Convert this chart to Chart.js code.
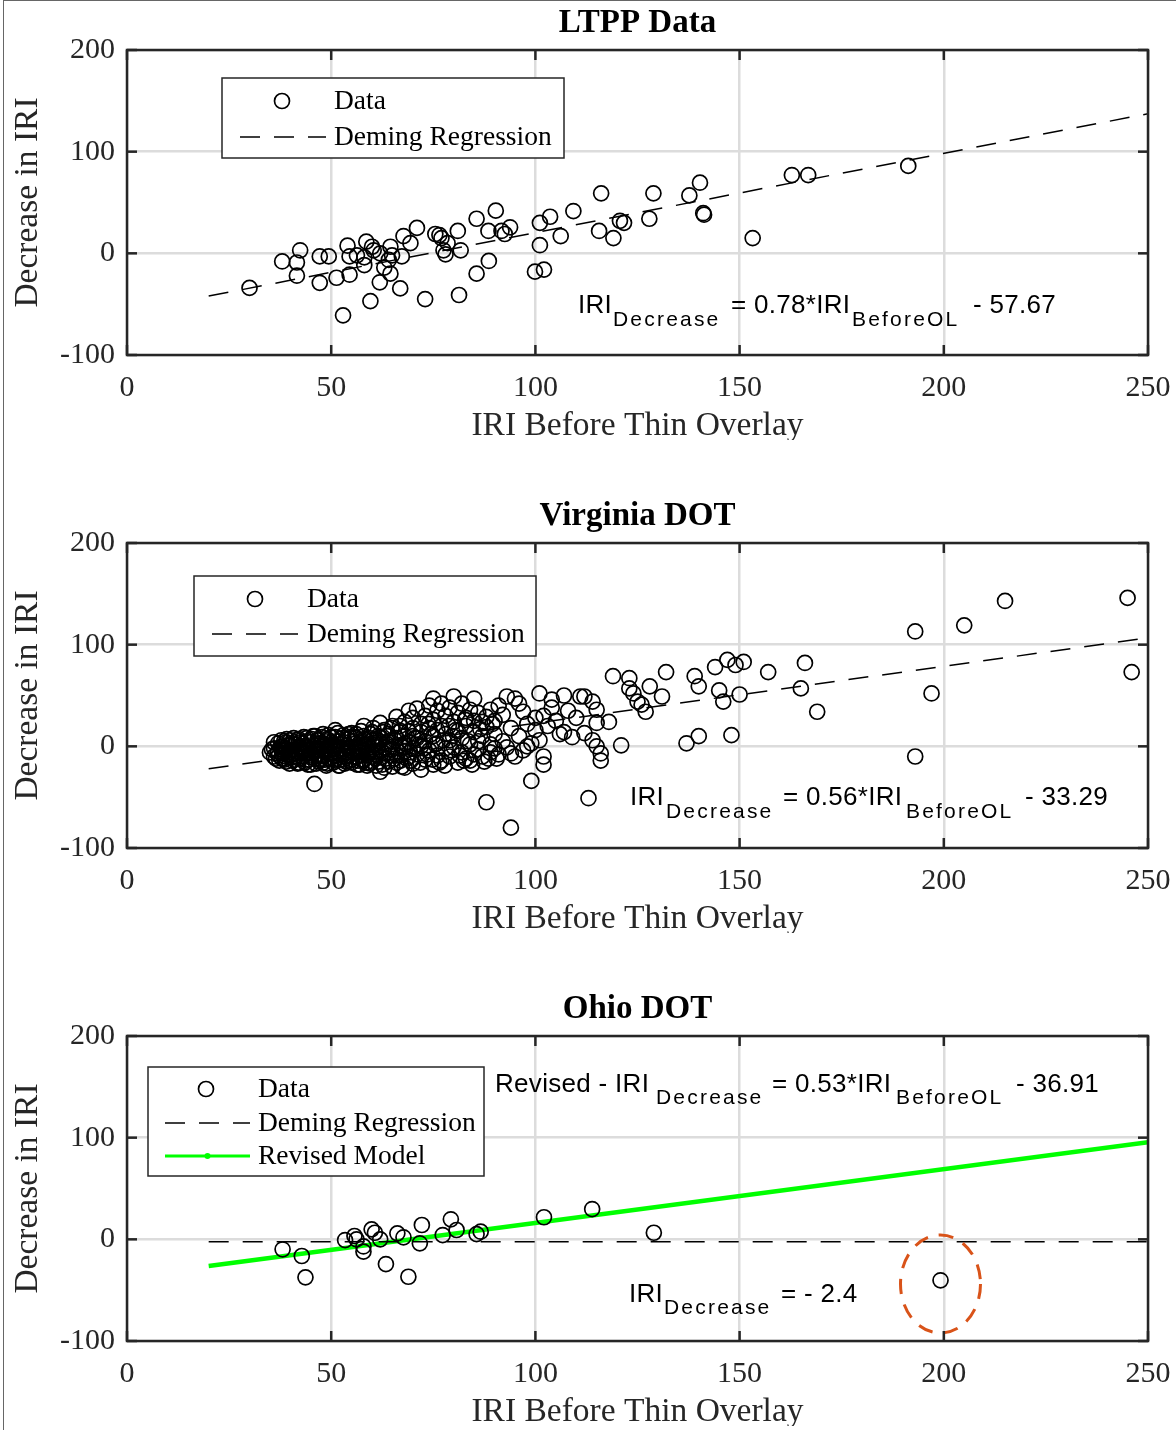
<!DOCTYPE html>
<html>
<head>
<meta charset="utf-8">
<script src="https://cdn.jsdelivr.net/npm/chart.js@4.4.1/dist/chart.umd.min.js"></script>
<style>
  body { margin: 0; background: #fff; width: 1176px; height: 1430px; position: relative; overflow: hidden; }
  .frame { position: absolute; left: 3px; top: 0; width: 1200px; height: 1440px; border-left: 1.5px solid #666; border-top: 1.5px solid #666; }
  canvas { position: absolute; left: 0; }
</style>
</head>
<body>
<div class="frame"></div>
<canvas id="c1" width="1176" height="440" style="top:0px"></canvas>
<canvas id="c2" width="1176" height="440" style="top:493px"></canvas>
<canvas id="c3" width="1176" height="440" style="top:986px"></canvas>
<script>
// axes
const xTickValues = [0, 50, 100, 150, 200, 250];
const yTickValues = [-100, 0, 100, 200];

// LTPP data [IRI before, decrease]
const ltppPoints = [
  [30, -34], [38, -8], [41.6, -9], [41.6, -22], [42.4, 3], [47.2, -3], [49.4, -3], [47.2, -29],
  [51.3, -24], [52.9, -61], [54, 7.5], [54.5, -3], [54.5, -21], [56.3, -2], [58.6, 11.5], [58.1, -11.5],
  [58.1, -4], [59.6, -47], [60, 6.5], [60.4, 3], [61.9, -28.5], [62, 0], [63, -14], [64.1, -6.5],
  [64.5, 6.5], [64.9, -2], [64.5, -20], [67.3, -3], [66.9, -34.5], [67.7, 17], [69.4, 10], [71, 25],
  [73, -45], [75.5, 19], [76.5, 18], [77, 15], [77.5, 3], [78, -1], [78.5, 10], [81, 22], [81.7, 3],
  [81.3, -41], [85.6, 34], [85.6, -20], [88.5, 22], [88.6, -7.5], [90.3, 42], [91.7, 22], [93.8, 25.6],
  [92.5, 19], [99.9, -18], [102.1, -16], [101.1, 30], [101.1, 8], [103.6, 36], [106.2, 17], [109.3, 41.6],
  [116.1, 59], [115.6, 22], [119.1, 15], [120.7, 32], [121.7, 30], [127.9, 34], [128.9, 59], [137.7, 57],
  [140.3, 69.5], [141.1, 39.5], [141.3, 38], [153.2, 15], [162.8, 77], [166.8, 77], [191.3, 86]
];
const ltppDemingX = [20, 250];
const ltppDemingY = [-42.07, 137.33];

// Virginia DOT data
const virginiaPoints = [
  [35, -6], [36, -2], [36, -10], [37, -5], [37, 3], [38, -12], [38, 0], [38, -7], [39, 4], [39, -15],
  [39, -3], [40, -9], [40, 1], [40, 6], [41, -13], [41, -5], [41, 2], [42, -16], [42, -1], [42, 7],
  [43, -10], [43, -4], [43, 3], [44, -14], [44, 0], [44, 8], [45, -7], [45, -18], [45, 4],
  [36.5, -12], [37.5, -1], [38.5, 5], [39.5, -8], [40.5, -14], [41.5, -3], [42.5, 4], [43.5, -7],
  [44.5, -13], [45.5, -1], [46.5, -8], [47.5, 3], [48.5, -13], [49.5, 1], [50.5, -16], [51.5, -5],
  [52.5, 2], [53.5, -10], [54.5, -14], [55.5, 5], [56.5, -2], [57.5, -9], [58.5, 0], [59.5, -17],
  [60.5, -8], [61.5, 10], [63.5, 3], [65.5, -12], [66.5, 14], [67.5, -1], [69.5, -14], [71.5, 2],
  [73.5, -8], [74.5, 12], [76.5, -16], [77.5, 6], [79.5, -4], [80.5, 16], [82.5, -14], [83.5, 5],
  [84.5, -18], [86.5, 17], [87.5, -15], [89.5, 22], [90.5, -12],
  [35.5, -3], [36, 4], [36.8, -7], [37.3, -14], [37.8, 6], [38.3, -4], [38.8, -10], [39.3, 1],
  [39.8, -17], [40.3, -4], [40.8, 8], [41.3, -10], [41.8, -17], [42.3, 0], [42.8, -7], [43.3, 9],
  [43.8, -3], [44.3, -18], [44.8, -9], [45.3, 7], [45.8, -4], [46.3, -17], [46.8, 3], [47.3, -10],
  [47.8, 9], [48.3, -5], [48.8, -19], [49.3, 11], [49.8, -8], [50.3, 0], [50.8, -13], [51.3, 5],
  [51.8, -19], [52.3, -2], [52.8, 8], [53.3, -17], [53.8, -6], [54.3, 12], [54.8, -1], [55.3, -10],
  [55.8, 9], [56.3, -18], [56.8, -5], [57.3, 15], [57.8, -14], [58.3, 2], [58.8, -19], [59.3, 8],
  [59.8, -5], [60.3, 18], [60.8, -12], [61.3, -1], [61.8, 5], [62.5, -18], [63, -21], [63.8, 10],
  [64.5, -9], [65, 0], [66, -16], [66.8, 20], [67.3, -20], [68.5, -12], [69, 15], [70.5, 8],
  [71.8, -16], [72.8, -2], [73.8, 22], [74.8, -13], [75.5, 2], [76, 16], [77.8, -19], [78.8, 20],
  [79.8, 10], [81.5, -9], [82.8, 26], [84, -14], [86, 5], [87, 24], [88.5, -12], [90, -2],
  [37.2, -9], [37.9, -3], [38.6, -13], [39.1, 7], [39.6, -6], [40.1, -11], [40.6, 3], [41.1, -7],
  [41.6, 6], [42.1, -12], [42.6, -4], [43.1, 0], [43.6, -16], [44.1, 5], [44.6, -4], [45.1, -11],
  [45.6, 10], [46.1, -5], [46.6, 6], [47.1, -13], [47.6, 0], [48.1, -16], [48.6, 5], [49.1, -7],
  [49.6, -12], [50.1, 9], [50.6, -3], [51.1, -9], [51.6, 13], [52.1, -13], [52.6, -5], [53.1, 4],
  [53.6, -15], [54.1, -2], [54.6, 9], [55.1, -13], [55.6, -7], [56.1, 12], [56.6, -14], [57.1, 4],
  [57.6, -3], [58.1, 7], [58.6, -16], [59.1, -6], [59.6, 12], [60.1, -10], [60.6, 1], [61.1, 7],
  [61.6, -15], [62.2, -4], [62.8, 14], [63.4, -12], [64.2, -3], [64.8, 18], [65.6, 6], [66.4, -5],
  [67, -9], [68, 3], [69.2, -6], [70, 10],
  [46, -12], [46, 1], [46, 10], [47, -4], [47, -15], [47, 6], [48, -9], [48, 2], [48, 12], [49, -17],
  [49, -2], [49, 7], [50, -11], [50, 4], [50, -6], [51, -14], [51, 0], [51, 9], [51, 16], [52, -8],
  [52, 5], [52, -19], [53, -3], [53, 11], [53, -13], [54, 1], [54, -9], [54, 7], [55, -16], [55, -4],
  [55, 13], [56, 3], [56, -11], [56, 8], [57, -6], [57, -18], [57, 0], [58, 10], [58, -13], [58, 4],
  [58, 20], [59, -2], [59, -9], [60, 6], [60, -15], [60, 14],
  [61, -5], [61, 2], [61, -19], [62, 9], [62, -11], [62, 23], [62, -25], [63, -1], [63, 16], [63, -7],
  [64, 5], [64, -15], [64, 12], [65, -3], [65, 20], [65, -20], [66, 8], [66, -9], [66, 29], [67, 1],
  [67, 15], [67, -14], [68, -5], [68, 24], [68, 10], [68, -21], [69, 4], [69, 35], [69, -10], [70, 18],
  [70, -2], [70, 28], [70, -17],
  [71, 8], [71, 37], [71, -8], [72, 22], [72, -23], [72, 0], [72, 14], [73, 30], [73, -13], [73, 5],
  [74, 40], [74, -4], [74, 18], [75, 47], [75, 10], [75, -18], [75, 26], [76, -9], [76, 35], [76, 3],
  [77, 20], [77, 42], [77, -14], [78, -2], [78, 12], [78, 30], [79, 6], [79, 38], [79, -10], [80, 49],
  [80, 24], [80, -1], [81, 15], [81, -16], [81, 33], [82, 8], [82, 42], [82, -6], [83, 20], [83, -12],
  [83, 28], [84, 2], [84, 36], [85, 47], [85, 14], [85, -8], [85, 25], [45.9, -37],
  [86, -3], [86, 33], [87, 10], [87, -10], [88, 29], [88, 19], [88, -55], [89, 36], [89, 2], [89, -6],
  [90, 12], [90, 25], [91, -8], [91, 40], [92, 31], [92, 5], [93, 49], [93, -1], [94, -7], [94, 18],
  [94, -80], [95, 47], [95, -10], [96, 42], [96, 10], [97, 34], [97, -4], [98, 22], [98, 0], [99, 3],
  [99, -34], [100, 16], [100, 28], [101, 52], [101, 6],
  [102, -10], [102, -18], [102, 30], [103, 20], [104, 46], [104, 38], [105, 25], [106, 12], [107, 50],
  [107, 14], [108, 35], [109, 9], [110, 28], [111, 49], [112, 13], [112, 49], [113, -51], [114, 44],
  [114, 6], [115, 36], [115, 0], [115, 23], [116, -7], [116, -14], [118, 24], [119, 69], [121, 1],
  [123, 67], [123, 57], [124, 52], [125, 44], [126, 41], [127, 34], [128, 59], [131, 49], [132, 73],
  [137, 3], [139, 69], [140, 59], [140, 10], [144, 78], [145, 55], [146, 44], [147, 85], [148, 11],
  [149, 80], [150, 51], [151, 83], [157, 73], [165, 57], [166, 82], [169, 34], [193, 113], [193, -10],
  [197, 52], [205, 119], [215, 143], [245, 146], [246, 73]
];
const virginiaDemingX = [20, 250];
const virginiaDemingY = [-22.09, 106.71];

// Ohio DOT data
const ohioPoints = [
  [38.1, -9.8], [42.8, -16.4], [43.7, -37.4], [53.4, -0.7], [55.7, 3.3], [56.2, 0], [57.9, -12],
  [57.9, -7], [59.9, 9.8], [60.7, 6.5], [62, 0], [63.4, -24.3], [66.2, 5.9], [67.7, 2], [68.9, -36.8],
  [71.7, -3.9], [72.2, 14.1], [77.3, 4.2], [79.3, 19.7], [80.7, 9.2], [85.6, 5.2], [86.6, 7.5],
  [102.1, 21.7], [113.9, 29.8], [129, 6.5], [199.2, -40.3]
];
const ohioDemingX = [20, 250];
const ohioDemingY = [-2.4, -2.4];
const ohioRevisedX = [20, 250];
const ohioRevisedY = [-26.31, 95.59];

const SERIF = '"Liberation Serif", "Times New Roman", serif';
const SANS = '"Liberation Sans", Arial, sans-serif';
const INK = '#262626';
const DASH = [20, 14];

function toXY(pairs) { return pairs.map(p => ({ x: p[0], y: p[1] })); }
function lineXY(xs, ys) { return xs.map((x, i) => ({ x: x, y: ys[i] })); }

function seg(ctx, x0, y0, x1, y1) {
  ctx.beginPath(); ctx.moveTo(x0, y0); ctx.lineTo(x1, y1); ctx.stroke();
}

function drawEquation(ctx, eq) {
  ctx.fillStyle = '#000';
  ctx.textBaseline = 'alphabetic';
  ctx.textAlign = 'left';
  eq.pieces.forEach(p => {
    if (p.sub) {
      ctx.font = '21px ' + SANS;
      ctx.letterSpacing = '2.2px';
      ctx.fillText(p.t, p.x, eq.subBase);
    } else {
      ctx.font = '26px ' + SANS;
      ctx.letterSpacing = '0.3px';
      ctx.fillText(p.t, p.x, eq.base);
    }
  });
  ctx.letterSpacing = '0px';
}

function drawLegend(ctx, lg) {
  ctx.fillStyle = '#fff';
  ctx.fillRect(lg.x, lg.y, lg.w, lg.h);
  ctx.strokeStyle = INK; ctx.lineWidth = 1.5;
  ctx.strokeRect(lg.x, lg.y, lg.w, lg.h);
  lg.rows.forEach(r => {
    if (r.kind === 'circle') {
      ctx.beginPath(); ctx.arc(lg.markX, r.y, 7.5, 0, 2 * Math.PI);
      ctx.strokeStyle = '#000'; ctx.lineWidth = 1.7; ctx.stroke();
    } else {
      ctx.strokeStyle = r.color; ctx.lineWidth = r.width;
      ctx.setLineDash(r.dash || []);
      seg(ctx, lg.lineX0, r.y, lg.lineX1, r.y);
      ctx.setLineDash([]);
      if (r.dot) {
        ctx.fillStyle = r.color;
        ctx.beginPath(); ctx.arc((lg.lineX0 + lg.lineX1) / 2, r.y, 3, 0, 2 * Math.PI); ctx.fill();
      }
    }
    ctx.fillStyle = '#000';
    ctx.font = '27.5px ' + SERIF;
    ctx.textBaseline = 'middle';
    ctx.textAlign = 'left';
    ctx.fillText(r.label, lg.textX, r.y + 1);
  });
}

const decoPlugin = {
  id: 'deco',
  afterDatasetsDraw(chart, args, o) {
    const ctx = chart.ctx, a = chart.chartArea;
    const xs = chart.scales.x, ys = chart.scales.y;
    ctx.save();
    if (o.ellipse) {
      const e = o.ellipse;
      ctx.strokeStyle = '#D95319'; ctx.lineWidth = 3; ctx.setLineDash([15, 11]);
      ctx.beginPath(); ctx.ellipse(e.cx, e.cy, e.rx, e.ry, 0, 0, 2 * Math.PI); ctx.stroke();
      ctx.setLineDash([]);
    }
    // axes box with inward ticks
    ctx.strokeStyle = INK; ctx.lineWidth = 2.5;
    ctx.strokeRect(a.left, a.top, a.right - a.left, a.bottom - a.top);
    xTickValues.forEach(v => {
      const p = xs.getPixelForValue(v);
      seg(ctx, p, a.bottom, p, a.bottom - 10);
      seg(ctx, p, a.top, p, a.top + 10);
    });
    yTickValues.forEach(v => {
      const p = ys.getPixelForValue(v);
      seg(ctx, a.left, p, a.left + 10, p);
      seg(ctx, a.right, p, a.right - 10, p);
    });
    if (o.legend) drawLegend(ctx, o.legend);
    (o.equations || []).forEach(eq => drawEquation(ctx, eq));
    // titles
    ctx.fillStyle = '#000';
    ctx.textAlign = 'center'; ctx.textBaseline = 'middle';
    ctx.font = 'bold 33px ' + SERIF;
    ctx.fillText(o.title, (a.left + a.right) / 2, 23);
    ctx.fillStyle = INK;
    ctx.font = '33.5px ' + SERIF;
    ctx.fillText('IRI Before Thin Overlay', (a.left + a.right) / 2, 426);
    ctx.save();
    ctx.translate(28, (a.top + a.bottom) / 2);
    ctx.rotate(-Math.PI / 2);
    ctx.fillText('Decrease in IRI', 0, 0);
    ctx.restore();
    ctx.restore();
  }
};

function makeChart(id, datasets, deco) {
  return new Chart(document.getElementById(id), {
    type: 'scatter',
    data: { datasets: datasets },
    options: {
      responsive: false,
      animation: false,
      devicePixelRatio: 1,
      layout: { padding: { top: 50, right: 28, bottom: 0, left: 0 } },
      plugins: { legend: { display: false }, tooltip: { enabled: false }, deco: deco },
      scales: {
        x: {
          type: 'linear', min: 0, max: 250,
          afterFit: s => { s.height = 85; s.paddingLeft = 0; s.paddingRight = 0; },
          afterBuildTicks: s => { s.ticks = xTickValues.map(v => ({ value: v })); },
          grid: { color: '#dcdcdc', lineWidth: 2.5, drawTicks: false },
          border: { display: false },
          ticks: { color: INK, font: { family: SERIF, size: 30 }, padding: 15, maxRotation: 0 }
        },
        y: {
          type: 'linear', min: -100, max: 200,
          afterFit: s => { s.width = 127; s.paddingTop = 0; s.paddingBottom = 0; },
          afterBuildTicks: s => { s.ticks = yTickValues.map(v => ({ value: v })); },
          grid: { color: '#dcdcdc', lineWidth: 2.5, drawTicks: false },
          border: { display: false },
          ticks: { color: INK, font: { family: SERIF, size: 30 }, padding: 12 }
        }
      }
    },
    plugins: [decoPlugin]
  });
}

function pointSet(pairs) {
  return {
    label: 'Data', data: toXY(pairs), showLine: false,
    pointStyle: 'circle', pointRadius: 7.5, pointBorderWidth: 1.7,
    pointBorderColor: '#000', pointBackgroundColor: 'rgba(0,0,0,0)'
  };
}
function dashedSet(xs, ys) {
  return {
    label: 'Deming Regression', data: lineXY(xs, ys), showLine: true,
    borderColor: '#000', borderWidth: 1.5, borderDash: DASH, pointRadius: 0, fill: false
  };
}

makeChart('c1', [pointSet(ltppPoints), dashedSet(ltppDemingX, ltppDemingY)], {
  title: 'LTPP Data',
  legend: {
    x: 222, y: 78, w: 342, h: 80, markX: 282, lineX0: 240, lineX1: 326, textX: 334,
    rows: [
      { kind: 'circle', y: 101, label: 'Data' },
      { kind: 'line', y: 137, label: 'Deming Regression', color: '#000', width: 1.5, dash: DASH }
    ]
  },
  equations: [{
    base: 313, subBase: 326,
    pieces: [
      { t: 'IRI', x: 578 }, { t: 'Decrease', x: 613, sub: true }, { t: '= 0.78*IRI', x: 731 },
      { t: 'BeforeOL', x: 852, sub: true }, { t: '- 57.67', x: 973 }
    ]
  }]
});

makeChart('c2', [pointSet(virginiaPoints), dashedSet(virginiaDemingX, virginiaDemingY)], {
  title: 'Virginia DOT',
  legend: {
    x: 194, y: 83, w: 342, h: 80, markX: 255, lineX0: 212, lineX1: 298, textX: 307,
    rows: [
      { kind: 'circle', y: 106, label: 'Data' },
      { kind: 'line', y: 141, label: 'Deming Regression', color: '#000', width: 1.5, dash: DASH }
    ]
  },
  equations: [{
    base: 312, subBase: 325,
    pieces: [
      { t: 'IRI', x: 630 }, { t: 'Decrease', x: 666, sub: true }, { t: '= 0.56*IRI', x: 783 },
      { t: 'BeforeOL', x: 906, sub: true }, { t: '- 33.29', x: 1025 }
    ]
  }]
});

makeChart('c3', [
  pointSet(ohioPoints),
  dashedSet(ohioDemingX, ohioDemingY),
  {
    label: 'Revised Model', data: lineXY(ohioRevisedX, ohioRevisedY), showLine: true,
    borderColor: '#00ff00', borderWidth: 4.5, pointRadius: 0, fill: false
  }
], {
  title: 'Ohio DOT',
  legend: {
    x: 148, y: 81, w: 336, h: 109, markX: 206, lineX0: 165, lineX1: 250, textX: 258,
    rows: [
      { kind: 'circle', y: 103, label: 'Data' },
      { kind: 'line', y: 137, label: 'Deming Regression', color: '#000', width: 1.5, dash: DASH },
      { kind: 'line', y: 170, label: 'Revised Model', color: '#00ff00', width: 3, dot: true }
    ]
  },
  equations: [
    {
      base: 106, subBase: 118,
      pieces: [
        { t: 'Revised - IRI', x: 495 }, { t: 'Decrease', x: 656, sub: true }, { t: '= 0.53*IRI', x: 772 },
        { t: 'BeforeOL', x: 896, sub: true }, { t: '- 36.91', x: 1016 }
      ]
    },
    {
      base: 316, subBase: 328,
      pieces: [
        { t: 'IRI', x: 629 }, { t: 'Decrease', x: 664, sub: true }, { t: '= - 2.4', x: 781 }
      ]
    }
  ],
  ellipse: { cx: 940.5, cy: 298, rx: 40, ry: 49 }
});
</script>
</body>
</html>
